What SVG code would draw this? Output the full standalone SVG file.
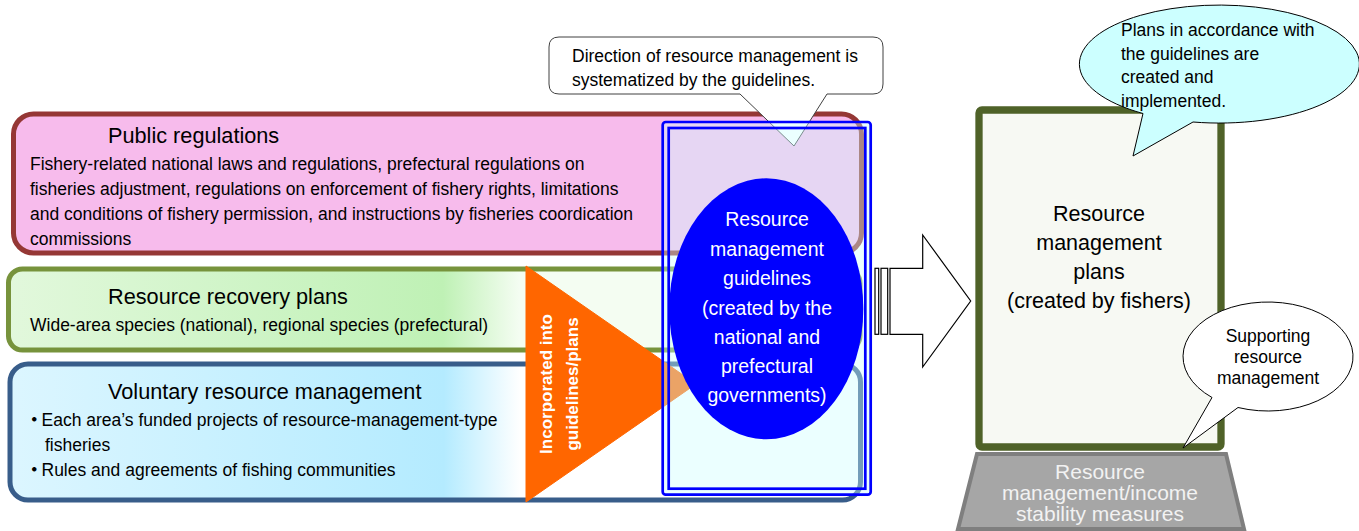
<svg xmlns="http://www.w3.org/2000/svg" width="1359" height="531" viewBox="0 0 1359 531">
<defs>
<linearGradient id="gGreen" x1="0" y1="0" x2="1" y2="0">
<stop offset="0" stop-color="#e2f8dc"/>
<stop offset="0.51" stop-color="#bff1b5"/>
<stop offset="0.6" stop-color="#f4fdf2"/>
<stop offset="1" stop-color="#f4fdf2"/>
</linearGradient>
<linearGradient id="gBlue" x1="0" y1="0" x2="1" y2="0">
<stop offset="0" stop-color="#dcf6ff"/>
<stop offset="0.51" stop-color="#b4ebff"/>
<stop offset="0.6" stop-color="#ffffff"/>
<stop offset="1" stop-color="#ffffff"/>
</linearGradient>
<style>
text{font-family:"Liberation Sans",Arial,sans-serif;fill:#000}
.title{font-size:21.7px}
.body{font-size:17.5px}
.c{text-anchor:middle}
.w{fill:#ffffff}
.dot{font-family:"Noto Sans CJK JP",sans-serif;font-weight:bold}
.bubble{fill:#ffffff;stroke:#000;stroke-width:1}
.frame{fill:none;stroke:#0000ff;stroke-width:2.7}
</style>
</defs>

<g id="public-regulations">
<rect x="13.5" y="114" width="848" height="139" rx="20" fill="#f7bbec" stroke="#953735" stroke-width="5"/>
<text class="title" x="108" y="143">Public regulations</text>
<text class="body" x="30" y="169.5">Fishery-related national laws and regulations, prefectural regulations on</text>
<text class="body" x="30" y="194.5">fisheries adjustment, regulations on enforcement of fishery rights, limitations</text>
<text class="body" x="30" y="220">and conditions of fishery permission, and instructions by fisheries coordication</text>
<text class="body" x="30" y="245">commissions</text>
</g>

<g id="resource-recovery-plans">
<rect x="8.5" y="269" width="851.5" height="81" rx="14" fill="url(#gGreen)" stroke="#77933c" stroke-width="5"/>
<text class="title" x="108" y="304">Resource recovery plans</text>
<text class="body" x="30" y="331">Wide-area species (national), regional species (prefectural)</text>
</g>

<g id="voluntary-resource-management">
<rect x="10" y="364" width="850.5" height="136" rx="18" fill="url(#gBlue)" stroke="#385d8a" stroke-width="5"/>
<text class="title" x="108" y="399">Voluntary resource management</text>
<text class="body dot" x="25.5" y="426">・</text>
<text class="body" x="41.5" y="426">Each area’s funded projects of resource-management-type</text>
<text class="body" x="45" y="451">fisheries</text>
<text class="body dot" x="25.5" y="476">・</text>
<text class="body" x="41.5" y="476">Rules and agreements of fishing communities</text>
</g>

<g id="incorporated-triangle">
<polygon points="526,266 696,384 526,502" fill="#ff6600" stroke="#ff6600" stroke-width="1" stroke-linejoin="round"/>
<text x="0" y="0" transform="translate(552,384) rotate(-90)" class="c w" style="font-size:17px;font-weight:bold">Incorporated into</text>
<text x="0" y="0" transform="translate(577.5,384) rotate(-90)" class="c w" style="font-size:17px;font-weight:bold">guidelines/plans</text>
</g>

<g id="direction-callout">
<path d="M559,37 H873 Q883,37 883,47 V84 Q883,94 873,94 H827 L794,146 L740,94 H559 Q549,94 549,84 V47 Q549,37 559,37 Z" fill="#ffffff" stroke="#404040" stroke-width="1"/>
<text class="body" x="572" y="61.5">Direction of resource management is</text>
<text class="body" x="572" y="86">systematized by the guidelines.</text>
</g>

<g id="resource-management-guidelines">
<rect x="662.7" y="122" width="208" height="372.7" rx="3" fill="#ccffff" fill-opacity="0.4"/>
<ellipse cx="766.3" cy="308.8" rx="97" ry="130.5" fill="#0000ff"/>
<rect class="frame" x="662.7" y="122" width="208" height="372.7" rx="3"/>
<rect class="frame" x="668.7" y="128" width="196.6" height="360.7"/>
<g style="font-size:19.5px">
<text class="c w" x="767" y="226">Resource</text>
<text class="c w" x="767" y="255.5">management</text>
<text class="c w" x="767" y="285">guidelines</text>
<text class="c w" x="767" y="314.5">(created by the</text>
<text class="c w" x="767" y="343.5">national and</text>
<text class="c w" x="767" y="373">prefectural</text>
<text class="c w" x="767" y="402">governments)</text>
</g>
</g>

<g id="connectors">
<rect x="875" y="268.3" width="3.7" height="66" fill="#ffffff" stroke="#000" stroke-width="1.2"/>
<rect x="881" y="268.3" width="6.7" height="66" fill="#ffffff" stroke="#000" stroke-width="1.2"/>
<path d="M890,268.3 H922.7 V235 L970.7,301 L922.7,367 V334.3 H890 Z" fill="#ffffff" stroke="#000" stroke-width="1.2"/>
</g>

<g id="income-stability-measures">
<polygon points="977,454 1226,454 1244,529 958,529" fill="#a6a6a6" stroke="#7f7f7f" stroke-width="4"/>
<text class="c" x="1100" y="479" style="font-size:21px;fill:#f2f2f2">Resource</text>
<text class="c" x="1100" y="500" style="font-size:21px;fill:#f2f2f2">management/income</text>
<text class="c" x="1100" y="521" style="font-size:21px;fill:#f2f2f2">stability measures</text>
</g>

<g id="resource-management-plans">
<rect x="979" y="110" width="242" height="337" rx="3" fill="#f7f9f3" stroke="#4f6228" stroke-width="7.3"/>
<text class="c" x="1099" y="221" style="font-size:21.5px">Resource</text>
<text class="c" x="1099" y="250" style="font-size:21.5px">management</text>
<text class="c" x="1099" y="279" style="font-size:21.5px">plans</text>
<text class="c" x="1099" y="308" style="font-size:21.5px">(created by fishers)</text>
</g>

<g id="plans-bubble">
<path d="M1143,113.5 L1133,156 L1193,122 A140,59 0 1,0 1143,113.5 Z" fill="#ccffff" stroke="#000" stroke-width="1"/>
<text class="body" x="1121" y="36">Plans in accordance with</text>
<text class="body" x="1121" y="59.5">the guidelines are</text>
<text class="body" x="1121" y="83">created and</text>
<text class="body" x="1121" y="106.5">implemented.</text>
</g>

<g id="supporting-bubble">
<path d="M1212,397.5 L1183,448 L1238,407.5 A85,54.5 0 1,0 1212,397.5 Z" class="bubble"/>
<text class="body c" x="1268" y="341.5">Supporting</text>
<text class="body c" x="1268" y="362.5">resource</text>
<text class="body c" x="1268" y="383.5">management</text>
</g>
</svg>
